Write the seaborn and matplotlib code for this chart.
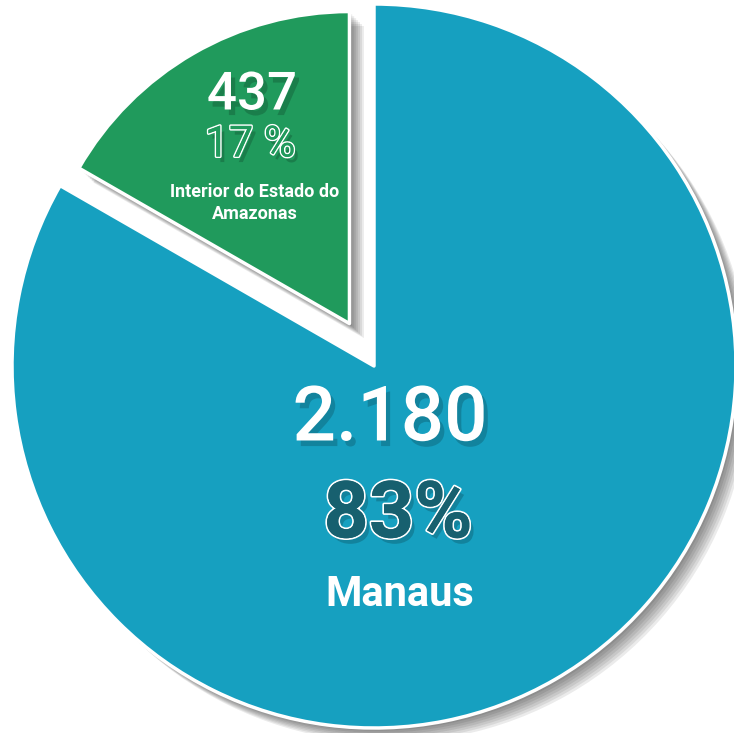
import matplotlib
matplotlib.use("Agg")
import matplotlib.pyplot as plt
import matplotlib.patches as mpatches
import matplotlib.patheffects as pe
import seaborn as sns

# data
regions = ["Interior do Estado do\nAmazonas", "Manaus"]
counts = [437, 2180]
pct_labels = ["17 %", "83%"]
colors = ["#209a5c", "#16a0c0"]

sns.set_theme(style="white")
plt.rcParams["font.family"] = ["Roboto", "DejaVu Sans"]

W, H = 734, 733
fig = plt.figure(figsize=(W / 100, H / 100), dpi=100)
ax = fig.add_axes([0, 0, 1, 1])

cx, cy, R = 374, H - 366, 362
# explode is in data units here (axes are in pixels)
wedges, _ = ax.pie(
    counts, colors=colors, startangle=90, counterclock=True,
    explode=[49, 0], radius=R, center=(cx, cy),
    wedgeprops=dict(edgecolor="white", linewidth=2.5, joinstyle="round"),
)
wedges[0].set_radius(R * 0.862)

# soft drop shadow built from stacked translucent shadows
for w in wedges:
    for k in range(7):
        off = 2 + k * 1.4
        s = mpatches.Shadow(w, off, -off, facecolor="black", edgecolor="none", alpha=0.08)
        s.set_zorder(w.get_zorder() - 1)
        ax.add_patch(s)

ax.set_xlim(0, W)
ax.set_ylim(0, H)
ax.set_aspect("auto")
ax.axis("off")

shadow = pe.SimplePatchShadow(offset=(3, -4), shadow_rgbFace="black", alpha=0.18)


def fmt(v):
    return f"{v:,}".replace(",", ".")


# Interior slice
ax.text(252, H - 95, fmt(counts[0]), ha="center", va="center", fontsize=38,
        fontweight="medium", color="white", path_effects=[shadow, pe.Normal()])
ax.text(250, H - 145, pct_labels[0], ha="center", va="center", fontsize=31,
        fontweight="normal", color=colors[0],
        path_effects=[shadow, pe.withStroke(linewidth=2.2, foreground="white"), pe.Normal()])
ax.text(255, H - 203, regions[0], ha="center", va="center", fontsize=13,
        fontweight="bold", color="white", linespacing=1.25)

# Manaus slice
ax.text(390, H - 420, fmt(counts[1]), ha="center", va="center", fontsize=55,
        fontweight="medium", color="white", path_effects=[shadow, pe.Normal()])
ax.text(398, H - 516, pct_labels[1], ha="center", va="center", fontsize=57,
        fontweight="bold", color="#17606f",
        path_effects=[shadow, pe.withStroke(linewidth=2.5, foreground="white"), pe.Normal()])
ax.text(400, H - 594, regions[1], ha="center", va="center", fontsize=30,
        fontweight="bold", color="white")

fig.savefig("out.png", dpi=100, facecolor="white")
